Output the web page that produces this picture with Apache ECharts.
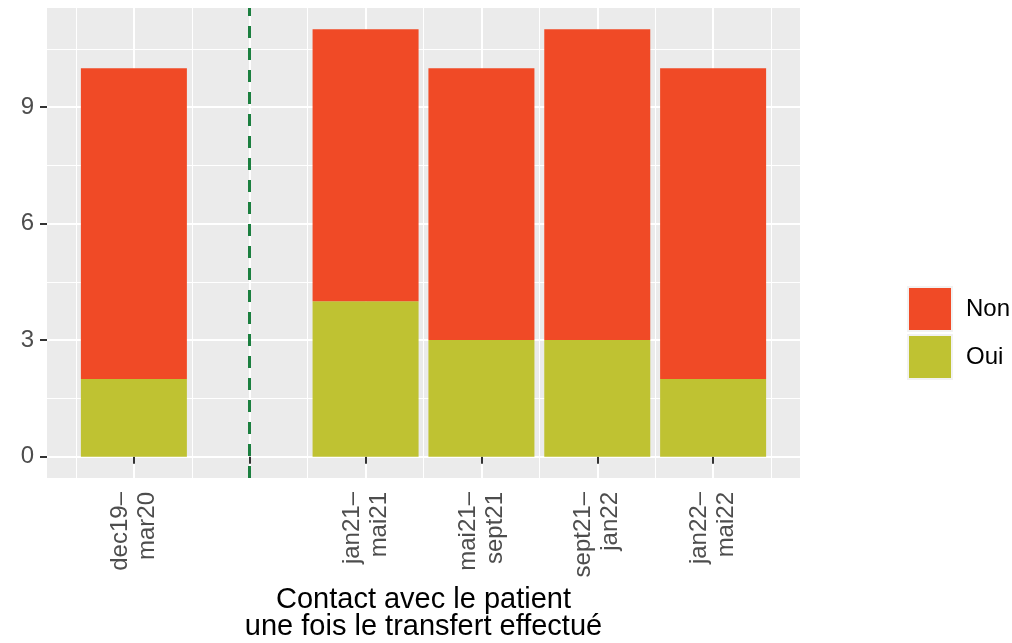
<!DOCTYPE html>
<html>
<head>
<meta charset="utf-8">
<script src="https://cdn.jsdelivr.net/npm/echarts@6/dist/echarts.min.js"></script>
<style>html,body{margin:0;padding:0;background:#fff}#c{width:1012px;height:643px}</style>
</head>
<body>
<div id="c"></div>
<script>
var categories = ['dec19–\nmar20', '', 'jan21–\nmai21', 'mai21–\nsept21', 'sept21–\njan22', 'jan22–\nmai22'];
var nonValues = [8, null, 7, 7, 8, 8];
var ouiValues = [2, null, 4, 3, 3, 2];
var yTicks = [0, 3, 6, 9];
var yMinor = [1.5, 4.5, 7.5, 10.5];
var separatorPos = 2;

var xPos = categories.map(function (c, i) { return i + 1; });
var xMinor = [0.5, 1.5, 2.5, 3.5, 4.5, 5.5, 6.5];
// rows are [value, position] so the stacked dimension is the value
function rows(vals) {
  var out = [];
  vals.forEach(function (v, i) { if (v !== null) out.push([v, xPos[i]]); });
  return out;
}
var font = 'Liberation Sans, Arial, Helvetica, sans-serif';
var chart = echarts.init(document.getElementById('c'), null, {renderer: 'canvas'});
var option = {
  animation: false,
  backgroundColor: '#ffffff',
  grid: {left: 47, right: 212, top: 8, bottom: 165, show: true, backgroundColor: '#EBEBEB', borderWidth: 0,
         containLabel: false, outerBoundsMode: 'none'},
  legend: {
    orient: 'vertical', left: 907, top: 286, padding: 0,
    itemWidth: 44, itemHeight: 44, itemGap: 2,
    icon: 'rect',
    data: ['Non', 'Oui'],
    textStyle: {fontFamily: font, fontSize: 24, color: '#000', padding: [0, 0, 0, 9]},
    itemStyle: {borderColor: '#F2F2F2', borderWidth: 2}
  },
  xAxis: [{
    type: 'value', min: 0.25, max: 6.75,
    axisLine: {show: false},
    axisTick: {show: true, length: 7, lineStyle: {color: '#333333', width: 2}, customValues: xPos},
    axisLabel: {
      customValues: xPos,
      rotate: 90, margin: 14, fontFamily: font, fontSize: 24, color: '#4D4D4D', lineHeight: 27,
      formatter: function (v) { var i = Math.round(v) - 1; return categories[i] || ''; }
    },
    splitLine: {show: true, lineStyle: {color: '#ffffff', width: 2}},
    name: 'Contact avec le patient\nune fois le transfert effectué',
    nameLocation: 'middle', nameGap: 100,
    nameTextStyle: {fontFamily: font, fontSize: 29, color: '#000', lineHeight: 27}
  }, {
    type: 'value', min: 0.25, max: 6.75, position: 'bottom',
    axisLine: {show: false}, axisLabel: {show: false},
    axisTick: {show: false, customValues: xMinor},
    splitLine: {show: true, lineStyle: {color: '#ffffff', width: 1}}
  }],
  yAxis: [{
    type: 'value', min: -0.55, max: 11.55,
    axisLine: {show: false},
    axisTick: {show: true, length: 7, lineStyle: {color: '#333333', width: 2}, customValues: yTicks},
    axisLabel: {customValues: yTicks, margin: 13, fontFamily: font, fontSize: 24, color: '#4D4D4D'},
    splitLine: {show: true, lineStyle: {color: '#ffffff', width: 2}}
  }, {
    type: 'value', min: -0.55, max: 11.55, position: 'left',
    axisLine: {show: false}, axisLabel: {show: false},
    axisTick: {show: false, customValues: yMinor},
    splitLine: {show: true, lineStyle: {color: '#ffffff', width: 1}}
  }],
  series: [{
    name: 'Oui', type: 'bar', stack: 'tot', barWidth: 106,
    xAxisIndex: 0, yAxisIndex: 0,
    encode: {x: 1, y: 0},
    itemStyle: {color: '#BFC232'},
    data: rows(ouiValues)
  }, {
    name: 'Non', type: 'bar', stack: 'tot', barWidth: 106,
    xAxisIndex: 0, yAxisIndex: 0,
    encode: {x: 1, y: 0},
    itemStyle: {color: '#F04A26'},
    data: rows(nonValues),
    markLine: {
      silent: true, symbol: 'none', label: {show: false},
      lineStyle: {color: '#1B7F3F', width: 3, type: [12, 10]},
      data: [{xAxis: separatorPos}]
    }
  }]
};
chart.setOption(option);
</script>
</body>
</html>
